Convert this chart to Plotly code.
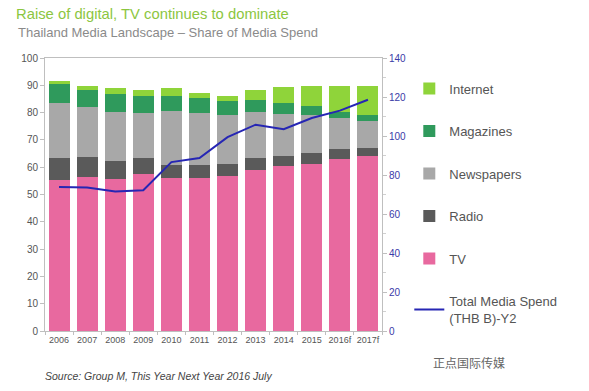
import plotly.graph_objects as go

years = ["2006", "2007", "2008", "2009", "2010", "2011", "2012", "2013", "2014", "2015", "2016f", "2017f"]
tv = [55.4, 56.5, 55.7, 57.6, 56.0, 56.2, 56.6, 59.0, 60.3, 61.1, 63.0, 64.2]
radio = [7.8, 7.4, 6.6, 5.7, 4.8, 4.7, 4.5, 4.3, 3.9, 4.1, 3.5, 3.0]
newspapers = [20.3, 18.1, 18.0, 16.7, 19.8, 18.9, 17.9, 16.9, 15.3, 14.0, 11.5, 9.8]
magazines = [7.2, 6.3, 6.5, 5.9, 5.6, 5.5, 5.1, 4.3, 4.0, 3.1, 2.4, 2.2]
internet = [0.7, 1.3, 2.1, 2.4, 2.7, 1.9, 2.1, 3.9, 5.7, 7.6, 9.2, 10.7]
total_spend = [73.8, 73.6, 71.5, 72.2, 86.6, 88.7, 99.4, 105.8, 103.5, 109.2, 113.0, 118.6]

font_family = "Liberation Sans, Arial, sans-serif"

fig = go.Figure()
series = [
    ("TV", tv, "#e8699f", 5),
    ("Radio", radio, "#5a5a5a", 4),
    ("Newspapers", newspapers, "#a8a8a8", 3),
    ("Magazines", magazines, "#2f9a5c", 2),
    ("Internet", internet, "#8fd43a", 1),
]
for name, vals, color, rank in series:
    fig.add_trace(go.Bar(
        x=years, y=vals, name=name, marker=dict(color=color, line=dict(width=0)),
        legendrank=rank, legendgroup=name,
    ))

fig.add_trace(go.Scatter(
    x=years, y=total_spend, name="Total Media Spend<br>(THB B)-Y2", mode="lines",
    line=dict(color="#2626b4", width=2), yaxis="y2", legendrank=6, legendgroup="total",
))

fig.update_layout(
    width=589, height=391,
    margin=dict(l=45, r=207, t=58, b=60),
    paper_bgcolor="white", plot_bgcolor="white",
    barmode="stack", bargap=0.25,
    font=dict(family=font_family, size=10, color="#555555"),
    showlegend=True,
    legend=dict(
        x=1.081, y=0.943, xanchor="left", yanchor="top",
        traceorder="grouped", tracegroupgap=22.6,
        font=dict(size=13, color="#555555"),
        itemwidth=30,
    ),
    xaxis=dict(
        type="category", tickson="boundaries", ticks="outside", ticklen=3,
        tickcolor="#bfbfbf", showline=True, linecolor="#bfbfbf", linewidth=1,
        mirror=True, tickangle=0, tickfont=dict(size=9, color="#555555"),
    ),
    yaxis=dict(
        range=[0, 100], dtick=10, ticks="outside", ticklen=4, tickcolor="#bfbfbf",
        showline=True, linecolor="#bfbfbf", showgrid=False, zeroline=False,
        tickfont=dict(size=10, color="#555555"),
    ),
    yaxis2=dict(
        range=[0, 140], dtick=20, overlaying="y", side="right", ticks="outside",
        ticklen=4, tickcolor="#bfbfbf", showline=True, linecolor="#bfbfbf",
        showgrid=False, zeroline=False, tickfont=dict(size=10, color="#3a3aa8"),
        minor=dict(ticks="outside", ticklen=3, dtick=10, tickcolor="#d0d0d0"),
    ),
)

fig.add_annotation(
    text="Raise of digital, TV continues to dominate", xref="paper", yref="paper",
    x=-0.092, y=1.161, xanchor="left", yanchor="middle", showarrow=False,
    font=dict(size=14.8, color="#8cc63f", family=font_family),
)
fig.add_annotation(
    text="Thailand Media Landscape \u2013 Share of Media Spend", xref="paper", yref="paper",
    x=-0.086, y=1.092, xanchor="left", yanchor="middle", showarrow=False,
    font=dict(size=13, color="#8a8a8a", family=font_family),
)
fig.add_annotation(
    text="<i>Source: Group M, This Year Next Year 2016 July</i>", xref="paper", yref="paper",
    x=-0.006, y=-0.165, xanchor="left", yanchor="middle", showarrow=False,
    font=dict(size=10.5, color="#444444", family=font_family),
)
fig.add_annotation(
    text="正点国际传媒", xref="paper", yref="paper",
    x=1.371, y=-0.117, xanchor="right", yanchor="middle", showarrow=False,
    font=dict(size=12, color="#666666", family="Noto Sans CJK SC"),
)

fig.write_html(
    "out.html",
    config={"displayModeBar": False},
    post_script="document.body.style.margin='0';",
)
